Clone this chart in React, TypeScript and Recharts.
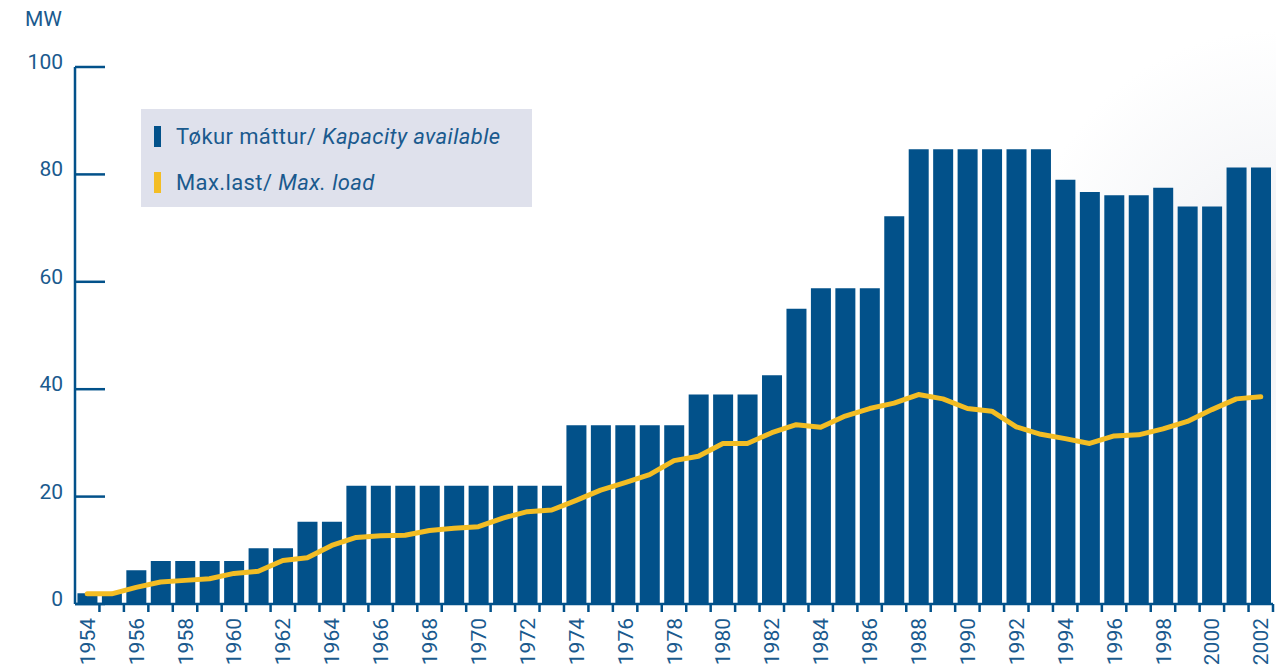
import React from "react";
import { ComposedChart, Bar, Line, XAxis, YAxis } from "recharts";

const years = [
  "1954", "1955", "1956", "1957", "1958", "1959", "1960", "1961", "1962", "1963",
  "1964", "1965", "1966", "1967", "1968", "1969", "1970", "1971", "1972", "1973",
  "1974", "1975", "1976", "1977", "1978", "1979", "1980", "1981", "1982", "1983",
  "1984", "1985", "1986", "1987", "1988", "1989", "1990", "1991", "1992", "1993",
  "1994", "1995", "1996", "1997", "1998", "1999", "2000", "2001", "2002",
];

// Tøkur máttur / capacity available (MW)
const capacity = [
  2, 2, 6.3, 8, 8, 8, 8, 10.4, 10.4, 15.3,
  15.3, 22, 22, 22, 22, 22, 22, 22, 22, 22,
  33.3, 33.3, 33.3, 33.3, 33.3, 39, 39, 39, 42.6, 55,
  58.8, 58.8, 58.8, 72.2, 84.7, 84.7, 84.7, 84.7, 84.7, 84.7,
  79, 76.7, 76.1, 76.1, 77.5, 74, 74, 81.3, 81.3,
];

// Max.last / max load (MW)
const maxLoad = [
  1.9, 1.9, 3.1, 4.1, 4.4, 4.7, 5.7, 6.1, 8.1, 8.6,
  10.9, 12.4, 12.7, 12.8, 13.7, 14.1, 14.4, 16.0, 17.2, 17.5,
  19.3, 21.2, 22.6, 24.1, 26.7, 27.5, 29.9, 29.9, 31.9, 33.4,
  32.9, 35.0, 36.4, 37.4, 39.0, 38.2, 36.4, 35.9, 33.0, 31.6,
  30.8, 29.9, 31.3, 31.5, 32.6, 34.0, 36.2, 38.2, 38.6,
];

const yTicks = [0, 20, 40, 60, 80, 100];

const BLUE = "#02518a";
const TEXT = "#1a5a8e";
const YELLOW = "#f3bd24";
const FONT = "Roboto, 'Open Sans', sans-serif";

const data = years.map((y, i) => ({ year: y, capacity: capacity[i], load: maxLoad[i] }));

function YTick(props: any) {
  const { x, y, payload } = props;
  return (
    <g>
      <line x1={x + 12} y1={y} x2={x + 42} y2={y} stroke={BLUE} strokeWidth={2.5} />
      <text x={x} y={y} dy={2} textAnchor="end" fill={TEXT} fontSize={21} fontFamily={FONT}>
        {payload.value}
      </text>
    </g>
  );
}

function XTick(props: any) {
  const { x, y, payload, index } = props;
  const half = payload.offset || 12.2;
  const yr = Number(payload.value);
  const last = index === years.length - 1;
  return (
    <g>
      {index > 0 && (
        <line x1={x - half} y1={y} x2={x - half} y2={y + 8} stroke={BLUE} strokeWidth={2.5} />
      )}
      {last && (
        <line x1={x + half} y1={y} x2={x + half} y2={y + 8} stroke={BLUE} strokeWidth={2.5} />
      )}
      {yr % 2 === 0 && (
        <text
          transform={`translate(${x},${y + 14}) rotate(-90)`}
          dy="0.36em"
          textAnchor="end"
          fill={TEXT}
          fontSize={21}
          fontFamily={FONT}
        >
          {payload.value}
        </text>
      )}
    </g>
  );
}

export default function App() {
  return (
    <div
      style={{
        position: "absolute",
        left: 0,
        top: 0,
        width: 1276,
        height: 671,
        overflow: "hidden",
        background:
          "radial-gradient(circle at 1276px 280px, #eceef2 0px, #f6f7f9 120px, #ffffff 250px)",
        fontFamily: FONT,
      }}
    >
      <ComposedChart
        width={1276}
        height={671}
        data={data}
        margin={{ top: 67, right: 3, left: 0, bottom: 0 }}
        barCategoryGap="10%"
      >
        <XAxis
          dataKey="year"
          height={67}
          interval={0}
          tickSize={0}
          tickMargin={0}
          tickLine={false}
          axisLine={{ stroke: BLUE, strokeWidth: 2.5 }}
          tick={<XTick />}
        />
        <YAxis
          width={75}
          domain={[0, 100]}
          ticks={yTicks}
          interval={0}
          tickSize={0}
          tickMargin={12}
          tickLine={false}
          axisLine={{ stroke: BLUE, strokeWidth: 2.5 }}
          tick={<YTick />}
        />
        <Bar dataKey="capacity" fill={BLUE} isAnimationActive={false} />
        <Line
          type="linear"
          dataKey="load"
          stroke={YELLOW}
          strokeWidth={5}
          strokeLinecap="round"
          strokeLinejoin="round"
          dot={false}
          activeDot={false}
          isAnimationActive={false}
        />
      </ComposedChart>

      {/* unit label */}
      <div style={{ position: "absolute", left: 25, top: 7, fontSize: 21, color: TEXT }}>MW</div>

      {/* legend */}
      <div
        style={{
          position: "absolute",
          left: 141,
          top: 109,
          width: 391,
          height: 98,
          background: "#dfe1ec",
          color: TEXT,
          fontSize: 22,
          letterSpacing: 0.4,
        }}
      >
        {[
          { color: BLUE, main: "Tøkur máttur/ ", en: "Kapacity available", top: 15 },
          { color: YELLOW, main: "Max.last/ ", en: "Max. load", top: 61 },
        ].map((l) => (
          <div
            key={l.main}
            style={{ position: "absolute", left: 13, top: l.top, display: "flex", alignItems: "center" }}
          >
            <span style={{ display: "inline-block", width: 7, height: 21, background: l.color }} />
            <span style={{ marginLeft: 15, whiteSpace: "pre" }}>
              {l.main}
              <i>{l.en}</i>
            </span>
          </div>
        ))}
      </div>
    </div>
  );
}
